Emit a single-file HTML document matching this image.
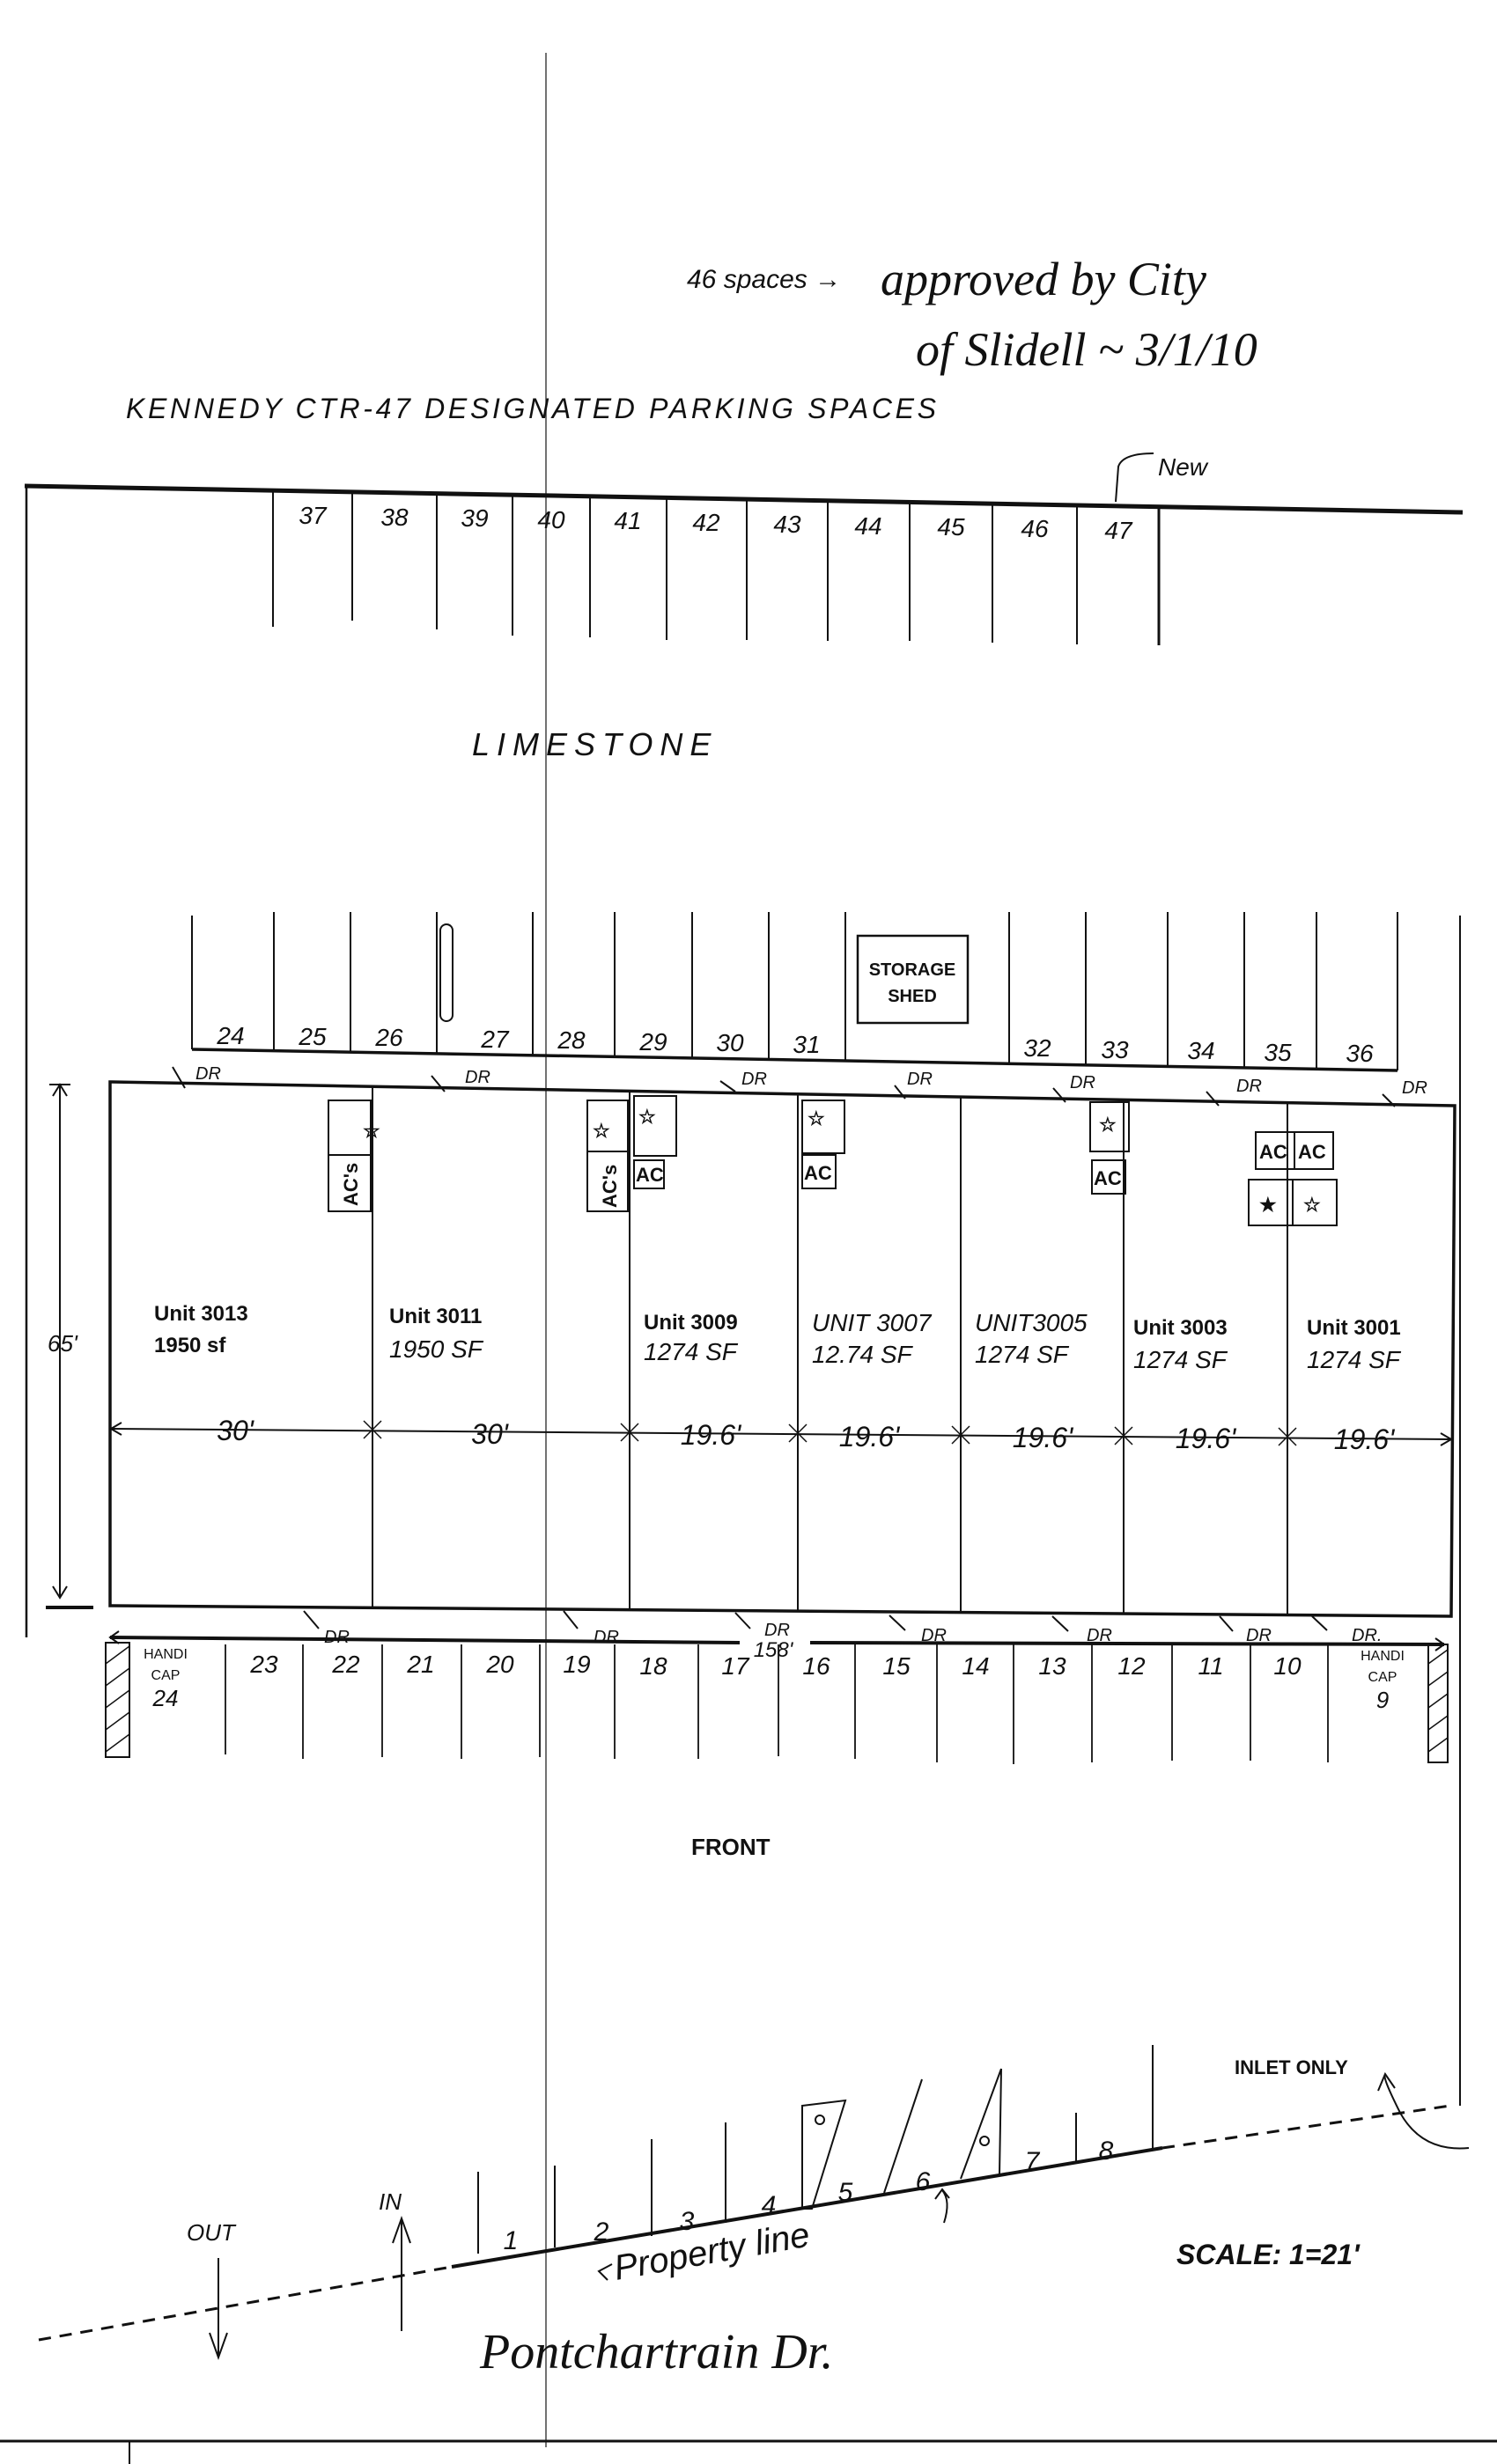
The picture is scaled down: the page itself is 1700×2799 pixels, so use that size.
<!DOCTYPE html>
<html><head><meta charset="utf-8"><style>
html,body{margin:0;padding:0;background:#fff}
svg{display:block}
text{font-family:"Liberation Sans",sans-serif;fill:#111}
.h{font-style:italic}
</style></head><body>
<svg width="1700" height="2799" viewBox="0 0 1700 2799" xmlns="http://www.w3.org/2000/svg">
<g stroke="#111" fill="none" stroke-width="2">
<line x1="620" y1="60" x2="620" y2="2780" stroke="#444" stroke-width="1.5"/>
<line x1="28" y1="552" x2="1661" y2="582" stroke-width="5"/>
<line x1="30" y1="552" x2="30" y2="1860" stroke-width="2.5"/>
<line x1="310" y1="557" x2="310" y2="712"/><line x1="400" y1="559" x2="400" y2="705"/>
<line x1="496" y1="561" x2="496" y2="715"/><line x1="582" y1="562" x2="582" y2="722"/>
<line x1="670" y1="564" x2="670" y2="724"/><line x1="757" y1="566" x2="757" y2="727"/>
<line x1="848" y1="567" x2="848" y2="727"/><line x1="940" y1="569" x2="940" y2="728"/>
<line x1="1033" y1="571" x2="1033" y2="728"/><line x1="1127" y1="573" x2="1127" y2="730"/>
<line x1="1223" y1="575" x2="1223" y2="732"/><line x1="1316" y1="577" x2="1316" y2="733" stroke-width="3"/>
<path d="M1267 570 L1270 530 Q1275 515 1310 515"/>
<line x1="218" y1="1040" x2="218" y2="1192"/><line x1="311" y1="1036" x2="311" y2="1193"/>
<line x1="398" y1="1036" x2="398" y2="1194"/><line x1="496" y1="1036" x2="496" y2="1196"/>
<rect x="500" y="1050" width="14" height="110" rx="7"/>
<line x1="605" y1="1036" x2="605" y2="1198"/><line x1="698" y1="1036" x2="698" y2="1200"/>
<line x1="786" y1="1036" x2="786" y2="1202"/><line x1="873" y1="1036" x2="873" y2="1203"/>
<line x1="960" y1="1036" x2="960" y2="1205"/><line x1="1146" y1="1036" x2="1146" y2="1208"/>
<line x1="1233" y1="1036" x2="1233" y2="1210"/><line x1="1326" y1="1036" x2="1326" y2="1212"/>
<line x1="1413" y1="1036" x2="1413" y2="1213"/><line x1="1495" y1="1036" x2="1495" y2="1215"/>
<line x1="1587" y1="1036" x2="1587" y2="1216"/>
<line x1="218" y1="1192" x2="1587" y2="1216" stroke-width="3.5"/>
<rect x="974" y="1063" width="125" height="99" stroke-width="2.5"/>
<polygon points="125,1229 1652,1256 1648,1836 125,1824" stroke-width="3.5"/>
<line x1="423" y1="1234" x2="423" y2="1826"/><line x1="715" y1="1239" x2="715" y2="1828"/>
<line x1="906" y1="1242" x2="906" y2="1830"/><line x1="1091" y1="1246" x2="1091" y2="1832"/>
<line x1="1276" y1="1249" x2="1276" y2="1833"/><line x1="1462" y1="1252" x2="1462" y2="1835"/>
<line x1="68" y1="1232" x2="68" y2="1815"/>
<path d="M60 1245 L68 1232 L76 1245 M60 1802 L68 1815 L76 1802"/>
<line x1="56" y1="1232" x2="80" y2="1232"/><line x1="52" y1="1826" x2="106" y2="1826" stroke-width="4"/>
<line x1="125" y1="1623" x2="1648" y2="1635"/>
<path d="M138 1616 L126 1623 L138 1630 M1636 1628 L1648 1635 L1636 1642"/>
<g stroke-width="1.5">
<path d="M413 1614 L433 1634 M433 1614 L413 1634 M705 1617 L725 1637 M725 1617 L705 1637 M896 1618 L916 1638 M916 1618 L896 1638 M1081 1620 L1101 1640 M1101 1620 L1081 1640 M1266 1621 L1286 1641 M1286 1621 L1266 1641 M1452 1622 L1472 1642 M1472 1622 L1452 1642"/>
</g>
<rect x="373" y="1250" width="48" height="62"/><rect x="373" y="1312" width="48" height="64"/>
<rect x="667" y="1250" width="46" height="58"/><rect x="667" y="1308" width="46" height="68"/>
<rect x="720" y="1245" width="48" height="68"/><rect x="720" y="1318" width="34" height="32"/>
<rect x="911" y="1250" width="48" height="60"/><rect x="911" y="1312" width="38" height="38"/>
<rect x="1238" y="1252" width="44" height="56"/><rect x="1240" y="1318" width="38" height="38"/>
<rect x="1426" y="1286" width="44" height="42"/><rect x="1470" y="1286" width="44" height="42"/>
<rect x="1418" y="1340" width="50" height="52"/><rect x="1468" y="1340" width="50" height="52"/>
<path d="M196 1212 L210 1236 M490 1222 L505 1240 M818 1228 L835 1240 M1016 1233 L1028 1248 M1196 1236 L1210 1252 M1370 1240 L1384 1256 M1570 1243 L1584 1257"/>
<line x1="125" y1="1860" x2="840" y2="1866" stroke-width="4"/>
<line x1="920" y1="1866" x2="1640" y2="1868" stroke-width="4"/>
<path d="M135 1853 L125 1860 L135 1867 M1630 1861 L1640 1868 L1630 1875"/>
<path d="M345 1830 L362 1850 M640 1830 L656 1850 M835 1832 L852 1850 M1010 1835 L1028 1852 M1195 1836 L1213 1853 M1385 1836 L1400 1853 M1490 1836 L1507 1852"/>
<g stroke-width="1.8">
<line x1="256" y1="1868" x2="256" y2="1993"/><line x1="344" y1="1868" x2="344" y2="1998"/>
<line x1="434" y1="1868" x2="434" y2="1996"/><line x1="524" y1="1868" x2="524" y2="1998"/>
<line x1="613" y1="1868" x2="613" y2="1996"/><line x1="698" y1="1868" x2="698" y2="1998"/>
<line x1="793" y1="1868" x2="793" y2="1998"/><line x1="884" y1="1868" x2="884" y2="1995"/>
<line x1="971" y1="1868" x2="971" y2="1998"/><line x1="1064" y1="1868" x2="1064" y2="2002"/>
<line x1="1151" y1="1868" x2="1151" y2="2004"/><line x1="1240" y1="1868" x2="1240" y2="2002"/>
<line x1="1331" y1="1868" x2="1331" y2="2000"/><line x1="1420" y1="1868" x2="1420" y2="2000"/>
<line x1="1508" y1="1868" x2="1508" y2="2002"/>
</g>
<rect x="120" y="1866" width="27" height="130"/>
<path d="M120 1890 L147 1870 M120 1915 L147 1895 M120 1940 L147 1920 M120 1965 L147 1945 M120 1990 L147 1970" stroke-width="1.5"/>
<rect x="1622" y="1868" width="22" height="134"/>
<path d="M1622 1890 L1644 1874 M1622 1915 L1644 1899 M1622 1940 L1644 1924 M1622 1965 L1644 1949 M1622 1990 L1644 1974" stroke-width="1.5"/>
<line x1="1658" y1="1040" x2="1658" y2="2392" stroke-width="2"/>
<line x1="44" y1="2658" x2="513" y2="2575" stroke-width="3" stroke-dasharray="14 10"/>
<line x1="513" y1="2575" x2="1320" y2="2440" stroke-width="4"/>
<line x1="1320" y1="2440" x2="1647" y2="2392" stroke-width="3" stroke-dasharray="14 10"/>
<line x1="543" y1="2467" x2="543" y2="2560"/><line x1="630" y1="2460" x2="630" y2="2553"/>
<line x1="740" y1="2430" x2="740" y2="2540"/><line x1="824" y1="2411" x2="824" y2="2525"/>
<polygon points="911,2392 960,2386 922,2509 911,2509"/>
<circle cx="931" cy="2408" r="5"/>
<line x1="1047" y1="2362" x2="1004" y2="2491"/>
<path d="M1137 2350 L1091 2475 M1137 2350 L1135 2470"/><circle cx="1118" cy="2432" r="5"/>
<line x1="1222" y1="2400" x2="1222" y2="2457"/><line x1="1309" y1="2323" x2="1309" y2="2440"/>
<line x1="248" y1="2565" x2="248" y2="2678"/><path d="M238 2650 L248 2678 L258 2650"/>
<line x1="456" y1="2648" x2="456" y2="2520"/><path d="M446 2548 L456 2520 L466 2548"/>
<path d="M1668 2440 Q1615 2445 1590 2400 Q1570 2360 1573 2358"/>
<path d="M1565 2375 L1573 2356 L1584 2372"/>
<path d="M1072 2525 Q1080 2500 1070 2488 M1062 2498 L1070 2487 L1078 2497"/>
<path d="M690 2590 L680 2580 L695 2572"/>
<line x1="0" y1="2773" x2="1700" y2="2773" stroke-width="3"/>
<line x1="147" y1="2773" x2="147" y2="2799"/>
</g>
<text x="780" y="327" font-size="30" class="h">46 spaces →</text>
<text x="1000" y="335" font-size="54" class="h" style="font-family:'Liberation Serif',serif">approved by City</text>
<text x="1040" y="415" font-size="54" class="h" style="font-family:'Liberation Serif',serif">of Slidell ~ 3/1/10</text>
<text x="143" y="475" font-size="32" class="h" textLength="920" lengthAdjust="spacing">KENNEDY CTR-47 DESIGNATED PARKING SPACES</text>
<text x="1315" y="540" font-size="28" class="h">New</text>
<g font-size="28" class="h" text-anchor="middle">
<text x="355" y="595">37</text><text x="448" y="597">38</text><text x="539" y="598">39</text><text x="626" y="600">40</text><text x="713" y="601">41</text><text x="802" y="603">42</text><text x="894" y="605">43</text><text x="986" y="607">44</text><text x="1080" y="608">45</text><text x="1175" y="610">46</text><text x="1270" y="612">47</text>
</g>
<text x="536" y="858" font-size="36" class="h" letter-spacing="8">LIMESTONE</text>
<text x="1036" y="1108" font-size="20" text-anchor="middle" font-weight="bold">STORAGE</text>
<text x="1036" y="1138" font-size="20" text-anchor="middle" font-weight="bold">SHED</text>
<g font-size="28" class="h" text-anchor="middle">
<text x="262" y="1186">24</text><text x="355" y="1187">25</text><text x="442" y="1188">26</text><text x="562" y="1190">27</text><text x="649" y="1191">28</text><text x="742" y="1193">29</text><text x="829" y="1194">30</text><text x="916" y="1196">31</text><text x="1178" y="1200">32</text><text x="1266" y="1202">33</text><text x="1364" y="1203">34</text><text x="1451" y="1205">35</text><text x="1544" y="1206">36</text>
</g>
<g font-size="20" class="h">
<text x="222" y="1226">DR</text><text x="528" y="1230">DR</text><text x="842" y="1232">DR</text><text x="1030" y="1232">DR</text><text x="1215" y="1236">DR</text><text x="1404" y="1240">DR</text><text x="1592" y="1242">DR</text>
<text x="368" y="1866">DR</text><text x="674" y="1866">DR</text><text x="868" y="1858">DR</text><text x="1046" y="1864">DR</text><text x="1234" y="1864">DR</text><text x="1415" y="1864">DR</text><text x="1535" y="1864">DR.</text>
</g>
<g font-size="22" font-weight="bold" font-family="Liberation Mono">
<text x="412" y="1292">☆</text>
<text x="673" y="1292">☆</text><text x="725" y="1276">☆</text><text x="917" y="1278">☆</text><text x="1248" y="1285">☆</text>
<text x="1430" y="1376">★</text><text x="1480" y="1376">☆</text>
</g>
<g font-size="22" font-weight="bold">
<text transform="translate(406,1370) rotate(-90)">AC's</text>
<text transform="translate(700,1372) rotate(-90)">AC's</text>
<text x="722" y="1342">AC</text><text x="913" y="1340">AC</text><text x="1242" y="1346">AC</text>
<text x="1430" y="1316">AC</text><text x="1474" y="1316">AC</text>
</g>
<g font-size="24" font-weight="bold" style="font-family:'Liberation Mono',monospace">
<text x="175" y="1500">Unit 3013</text><text x="175" y="1536">1950 sf</text>
<text x="442" y="1503">Unit 3011</text>
<text x="731" y="1510">Unit 3009</text>
<text x="1287" y="1516">Unit 3003</text>
<text x="1484" y="1516">Unit 3001</text>
</g>
<g font-size="28" class="h">
<text x="442" y="1542">1950 SF</text>
<text x="731" y="1545">1274 SF</text>
<text x="922" y="1512">UNIT 3007</text><text x="922" y="1548">12.74 SF</text>
<text x="1107" y="1512">UNIT3005</text><text x="1107" y="1548">1274 SF</text>
<text x="1287" y="1554">1274 SF</text>
<text x="1484" y="1554">1274 SF</text>
</g>
<text x="54" y="1535" font-size="26" class="h">65'</text>
<g font-size="32" class="h" text-anchor="middle">
<text x="267" y="1636">30'</text><text x="556" y="1640">30'</text><text x="807" y="1641">19.6'</text><text x="987" y="1643">19.6'</text><text x="1184" y="1644">19.6'</text><text x="1369" y="1645">19.6'</text><text x="1549" y="1646">19.6'</text>
</g>
<text x="878" y="1882" font-size="24" class="h" text-anchor="middle">158'</text>
<g font-size="28" class="h" text-anchor="middle">
<text x="300" y="1900">23</text><text x="393" y="1900">22</text><text x="478" y="1900">21</text><text x="568" y="1900">20</text><text x="655" y="1900">19</text><text x="742" y="1902">18</text><text x="835" y="1902">17</text><text x="927" y="1902">16</text><text x="1018" y="1902">15</text><text x="1108" y="1902">14</text><text x="1195" y="1902">13</text><text x="1285" y="1902">12</text><text x="1375" y="1902">11</text><text x="1462" y="1902">10</text>
</g>
<g font-size="16" text-anchor="middle">
<text x="188" y="1884">HANDI</text><text x="188" y="1908">CAP</text>
<text x="1570" y="1886">HANDI</text><text x="1570" y="1910">CAP</text>
</g>
<text x="188" y="1938" font-size="26" text-anchor="middle" class="h">24</text>
<text x="1570" y="1940" font-size="26" text-anchor="middle" class="h">9</text>
<text x="785" y="2107" font-size="26" font-weight="bold">FRONT</text>
<text x="1402" y="2356" font-size="22" font-weight="bold">INLET ONLY</text>
<g font-size="30" class="h" text-anchor="middle">
<text x="580" y="2555">1</text><text x="683" y="2545">2</text><text x="780" y="2533">3</text><text x="873" y="2515">4</text><text x="960" y="2500">5</text><text x="1048" y="2488">6</text><text x="1172" y="2465">7</text><text x="1256" y="2453">8</text>
</g>
<text x="212" y="2545" font-size="26" class="h">OUT</text>
<text x="430" y="2510" font-size="26" class="h">IN</text>
<text transform="translate(700,2590) rotate(-10)" font-size="40" class="h">Property  line</text>
<text x="1336" y="2572" font-size="32" font-weight="bold" class="h">SCALE: 1=21'</text>
<text x="545" y="2690" font-size="56" class="h" style="font-family:'Liberation Serif',serif">Pontchartrain  Dr.</text>
</svg>
</body></html>
